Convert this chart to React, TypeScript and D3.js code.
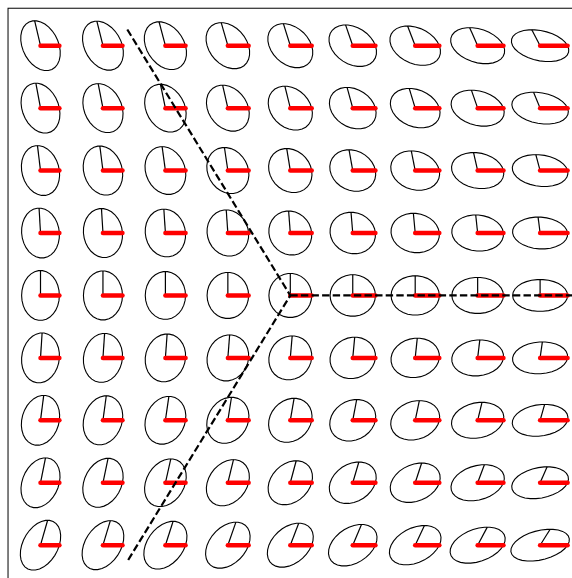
import React from "react";
import * as d3 from "d3";

// Grid of glyph positions (data units)
const gridX = [-4, -3, -2, -1, 0, 1, 2, 3, 4];
const gridY = [4, 3, 2, 1, 0, -1, -2, -3, -4];

// Length of the (horizontal) red vector, per column (relative to undeformed radius)
const redLen = [0.9, 0.93, 0.96, 0.99, 1.02, 1.08, 1.15, 1.23, 1.31];
// Vertical component of the black vector, per column
const blackLen = [1.19, 1.17, 1.14, 1.1, 1.05, 0.99, 0.94, 0.86, 0.76];
// Horizontal offset of the black vector tip, per row (top to bottom)
const rowShear = [-0.33, -0.26, -0.17, -0.08, 0, 0.09, 0.18, 0.28, 0.4];
// Column multiplier of that offset
const colShear = [0.85, 0.88, 0.92, 0.96, 1, 1.04, 1.1, 1.15, 1.2];

// Dashed branch lines (data units)
const branchX = [-2.61, 0, -2.61];
const branchY = [4.26, 0, -4.26];
const rayX = [0, 4.7];
const rayY = [0, 0];

const GLYPH_R = 0.336;
const W = 572;
const H = 578;

export default function App() {
  const x = d3.scaleLinear().domain([-4, 4]).range([40.5, 540.1]);
  const y = d3.scaleLinear().domain([-4, 4]).range([545.2, 45.7]);
  const unit = x(GLYPH_R) - x(0);
  const line = d3.line<[number, number]>();
  const ts = d3.range(0, 31).map((i) => (i / 30) * 2 * Math.PI);

  const glyphs: React.ReactNode[] = [];
  gridY.forEach((gy, r) => {
    gridX.forEach((gx, c) => {
      const cx = x(gx);
      const cy = y(gy);
      const a = redLen[c] * unit;
      const bx = rowShear[r] * colShear[c] * unit;
      const by = blackLen[c] * unit;
      const pts: [number, number][] = ts.map((t) => [
        cx + a * Math.cos(t) + bx * Math.sin(t),
        cy - by * Math.sin(t),
      ]);
      glyphs.push(
        <g key={`${r}-${c}`}>
          <path d={line(pts) || ""} fill="none" stroke="#000" strokeWidth={1.1} />
          <line x1={cx} y1={cy} x2={cx + bx} y2={cy - by} stroke="#000" strokeWidth={1.2} />
          <line x1={cx} y1={cy} x2={cx + a} y2={cy} stroke="#ff0000" strokeWidth={4.5} strokeLinecap="round" />
        </g>
      );
    });
  });

  const branch: [number, number][] = branchX.map((v, i) => [x(v), y(branchY[i])]);
  const ray: [number, number][] = rayX.map((v, i) => [x(v), y(rayY[i])]);

  return (
    <svg width={W} height={H} style={{ position: "absolute", left: 0, top: 0, display: "block" }}>
      <rect
        x={x(-4.52)}
        y={y(4.6)}
        width={x(4.52) - x(-4.52) + 10}
        height={y(-4.6) - y(4.6) + 10}
        fill="white"
        stroke="#000"
        strokeWidth={1}
      />
      {glyphs}
      <path d={line(branch) || ""} fill="none" stroke="#000" strokeWidth={2.2} strokeDasharray="7.4,3.2" />
      <path d={line(ray) || ""} fill="none" stroke="#000" strokeWidth={2.2} strokeDasharray="7.4,3.2" />
    </svg>
  );
}
